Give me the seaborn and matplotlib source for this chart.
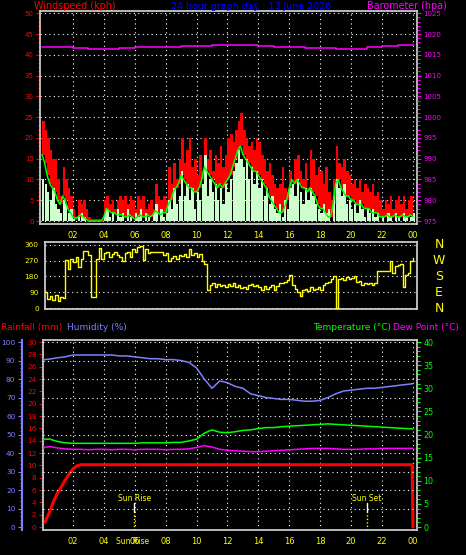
import matplotlib
matplotlib.use("Agg")
import matplotlib.pyplot as plt
from matplotlib.ticker import MultipleLocator
import numpy as np
import pandas as pd
import seaborn as sns

TITLE = "24 hour graph day : 13 June 2026"

# wind, 10 minute samples 00:00 .. 24:00 (kph)
WIND_GUST = [24, 22, 20, 17, 15, 15,  10, 6, 13, 10, 8, 6,  3, 1, 5, 4, 5, 3,
             1, 0.5, 0.5, 0.5, 0.5, 0.5,  5, 6, 4, 5, 3, 5,  6, 5, 6, 4, 6, 5,
             3, 6, 5, 6, 3, 4,  5, 3, 9, 6, 5, 6,  5, 13, 9, 14, 10, 15,
             20, 14, 17, 20, 13, 15,  11, 16, 12, 20, 15, 17,  12, 16, 14, 18, 13, 16,
             20, 21, 19, 22, 24, 26,  22, 20, 18, 19, 17, 20,  19, 16, 15, 12, 14, 11,
             9, 8, 9, 13, 8, 7,  12, 10, 15, 16, 12, 10,  14, 8, 17, 15, 11, 13,
             12, 9, 13, 7, 5, 10,  18, 14, 13, 15, 12, 11,  9, 10, 8, 10, 7, 9,
             8, 7, 9, 6, 7, 5,  3, 5, 4, 6, 3, 5,  6, 4, 6, 3, 5, 6,  4]
WIND_AVG = [16, 14, 11, 9, 8, 7,  5, 4, 6, 5, 3, 2,  1, 0.5, 1, 1.5, 1, 0.5,
            0, 0, 0, 0, 0, 0,  1, 3, 2.5, 2, 2, 1.5,  1.5, 1.5, 1, 1, 1.5, 1,
            0.5, 1, 1.5, 1, 1, 1.5,  1, 1.5, 2.5, 2, 1.5, 2,  2, 4, 5, 7, 8, 9,
            11, 10, 9, 8, 8, 7,  7, 8, 10, 13, 12, 11,  10, 9, 8, 9, 8, 9,
            10, 11, 13, 15, 17, 18,  16, 15, 14, 13, 12, 12,  11, 10, 9, 8, 6, 5,
            4, 3, 2, 2, 3, 5,  8, 10, 9, 10, 9, 8,  8, 7, 8, 7, 6, 4,
            3, 3, 2, 1, 1, 4,  9, 10, 8, 7, 6, 6,  5, 5, 4, 4, 4, 3,
            3, 3, 2, 2, 2, 1,  1, 1, 1.5, 1, 1, 1.5,  1, 1, 1.5, 1, 1, 1.5,  1]
WIND_SPEED = [10, 9, 7, 5, 8, 4,  3, 2, 5, 4, 2, 3,  0.5, 0, 1, 2, 1, 0,
              0, 0, 0, 0, 0, 0,  2, 3, 1, 2, 0, 3,  1, 2, 0, 3, 1, 0,
              2, 1, 3, 0, 2, 1,  0, 2, 4, 0, 3, 1,  2, 5, 3, 8, 4, 6,
              12, 6, 9, 5, 8, 3,  7, 5, 9, 16, 6, 10,  7, 9, 5, 8, 4, 9,
              7, 10, 12, 14, 17, 15,  13, 15, 10, 13, 9, 12,  8, 10, 6, 8, 4, 6,
              3, 2, 4, 1, 5, 3,  8, 9, 6, 10, 7, 4,  8, 5, 8, 6, 4, 3,
              2, 4, 2, 3, 0, 6,  10, 8, 6, 9, 4, 5,  3, 4, 2, 5, 3, 1,
              3, 2, 3, 1, 2, 0,  1, 0, 2, 1, 0, 2,  1, 0, 2, 1, 0, 1,  2]
WIND_DIR = [95, 90, 50, 70, 45, 75,  40, 60, 55, 275, 220, 280,  260, 290, 235, 280, 325, 325,
            300, 65, 65, 280, 340, 280,  310, 320, 290, 305, 320, 300,  290, 270, 310, 320, 290, 335,
            320, 345, 350, 275, 335, 310,  320, 320, 320, 320, 320, 300,  310, 270, 285, 295, 280, 300,
            295, 305, 290, 335, 300, 315,  290, 305, 270, 250, 100, 130,  140, 120, 135, 125, 130, 120,
            135, 125, 140, 120, 130, 115,  120, 110, 130, 135, 125, 130,  120, 105, 125, 110, 120, 130,
            105, 125, 140, 145, 150, 160,  190, 130, 110, 90, 70, 100,  110, 95, 120, 105, 110, 120,
            100, 130, 145, 150, 165, 180,  0, 165, 170, 160, 175, 165,  170, 180, 150, 155, 130, 145,
            135, 145, 130, 140, 210, 210,  210, 210, 210, 270, 200, 240,  245, 250, 120, 190, 200, 270,  285]

# barometer, hourly (hPa)
BARO_HPA = [1016.9, 1016.8, 1016.6, 1016.5, 1016.5, 1016.6, 1016.8, 1016.9, 1017.0, 1017.1,
            1017.2, 1017.3, 1017.3, 1017.4, 1017.2, 1017.0, 1016.8, 1016.7, 1016.6, 1016.5,
            1016.5, 1016.8, 1017.2, 1017.4, 1017.6]

# half-hourly
HUMIDITY = [90.3, 90.8, 91.5, 92.0, 93.0, 93.0, 93.0, 93.0, 93.0, 93.0,
            92.5, 92.5, 92.0, 91.5, 91.0, 91.0, 90.5, 90.5, 90.0, 89.0,
            86.0, 80.0, 75.0, 79.0, 78.0, 76.0, 75.0, 72.0, 71.0, 70.0,
            69.5, 69.0, 69.0, 68.5, 68.0, 68.0, 68.5, 70.0, 72.0, 73.5,
            74.0, 74.5, 75.0, 75.0, 75.5, 76.0, 76.5, 77.0, 77.5]
TEMP_C = [19.0, 19.0, 18.5, 18.2, 18.1, 18.1, 18.1, 18.1, 18.1, 18.1,
          18.1, 18.1, 18.1, 18.2, 18.2, 18.2, 18.2, 18.3, 18.3, 18.6,
          19.0, 20.3, 21.0, 20.5, 20.4, 20.6, 20.9, 21.0, 21.3, 21.5,
          21.5, 21.7, 21.8, 21.9, 22.0, 22.1, 22.2, 22.3, 22.2, 22.1,
          22.0, 21.9, 21.8, 21.7, 21.6, 21.5, 21.4, 21.3, 21.2]
DEW_C = [17.1, 17.4, 17.1, 16.9, 16.8, 16.8, 16.7, 16.8, 16.8, 16.7,
         16.8, 16.8, 16.7, 16.8, 16.8, 16.8, 16.7, 16.8, 16.8, 16.9,
         17.2, 17.6, 17.3, 16.8, 16.6, 16.5, 16.4, 16.3, 16.3, 16.4,
         16.5, 16.6, 16.7, 16.8, 16.9, 17.0, 17.0, 17.0, 16.9, 16.8,
         16.8, 16.8, 16.9, 16.9, 17.0, 17.0, 17.0, 17.0, 17.0]

RAIN_TIMES = [0.2, 0.5, 0.75, 1.0, 1.25, 1.5, 1.75, 2.0, 2.25, 2.5, 23.95, 24.0]
RAIN_MM = [0.8, 2.5, 4.2, 5.5, 6.5, 7.6, 8.6, 9.4, 9.9, 10.1, 10.1, 0.0]

SUNRISE_H = 5.97
SUNSET_H = 21.0

HOUR_TICKS = list(range(2, 25, 2))
HOUR_LABELS = [f"{h % 24:02d}" for h in HOUR_TICKS]
DIR_TICKS = [0, 90, 180, 270, 360]
DIR_LETTERS = ["N", "E", "S", "W", "N"]

RED, MAG, GRN, YEL = "#ff0000", "#ff00ff", "#00ff00", "#ffff00"
HUM, PALE, FRAME = "#8080ff", "#ccffcc", "#c8c8c8"
GRID = dict(color="white", lw=0.8, ls=(0, (1, 3)))


def frame(ax):
    ax.set_facecolor("black")
    for s in ax.spines.values():
        s.set_color(FRAME)
        s.set_linewidth(1.3)
    ax.set_xlabel(""); ax.set_ylabel("")


def hide_spines(ax):
    for s in ax.spines.values():
        s.set_visible(False)
    ax.set_xlabel(""); ax.set_ylabel("")


def y_ticks(ax, major, minor, color, size=5):
    ax.set_yticks(major)
    ax.yaxis.set_minor_locator(MultipleLocator(minor))
    ax.tick_params(axis="y", which="major", colors=color, labelsize=size, length=3, width=0.8, pad=1.5)
    ax.tick_params(axis="y", which="minor", colors=color, length=1.8, width=0.7)


def hour_axis(ax):
    ax.set_xticks(HOUR_TICKS, HOUR_LABELS)
    ax.xaxis.set_minor_locator(MultipleLocator(0.5))
    ax.tick_params(axis="x", which="major", colors="white", labelcolor=YEL,
                   labelsize=6, length=3, width=0.8, pad=2)
    ax.tick_params(axis="x", which="minor", colors="white", length=2, width=0.7)


def draw_wind(fig):
    ax = fig.add_axes([0.0858, 0.5964, 0.809, 0.3843])
    frame(ax)
    t = np.arange(len(WIND_GUST)) / 6
    ax.fill_between(t, WIND_AVG, WIND_GUST, step="post", color=RED, lw=0, zorder=2)
    ax.bar(t, WIND_SPEED, width=0.15, align="edge", color=PALE, lw=0, zorder=3)
    sns.lineplot(x=t, y=WIND_AVG, ax=ax, color=GRN, lw=1.1, zorder=4)
    ax.set_xlim(-0.13, 24.26)
    ax.set_ylim(-0.72, 50.63)
    y_ticks(ax, range(0, 51, 5), 1, RED)
    hour_axis(ax)
    for v in range(0, 51, 5):
        ax.axhline(v, zorder=1, **GRID)
    for h in HOUR_TICKS:
        ax.axvline(h, zorder=1, **GRID)
    frame(ax)

    axb = ax.twinx()
    baro = pd.DataFrame({"hour": np.arange(len(BARO_HPA)), "hpa": BARO_HPA})
    sns.lineplot(data=baro, x="hour", y="hpa", ax=axb, color=MAG, lw=1.1, drawstyle="steps-post")
    axb.set_ylim(975 - 0.72, 1025.63)
    y_ticks(axb, range(975, 1026, 5), 1, MAG)
    hide_spines(axb)


def draw_direction(fig):
    ax = fig.add_axes([0.0966, 0.4432, 0.7983, 0.1213])
    t = np.arange(len(WIND_DIR)) / 6
    sns.lineplot(x=t, y=WIND_DIR, ax=ax, color=YEL, lw=1.0, drawstyle="steps-post", zorder=3)
    ax.set_xlim(0.19, 24.26)
    ax.set_ylim(-5.7, 377)
    ax.set_xticks([])
    y_ticks(ax, DIR_TICKS, 45, YEL, size=5.3)
    ax.tick_params(axis="y", colors="white", labelcolor=YEL)
    ax.tick_params(axis="y", which="minor", colors="white")
    for v in DIR_TICKS:
        ax.axhline(v, zorder=1, **GRID)
    for v, letter in zip(DIR_TICKS, DIR_LETTERS):
        ax.text(1.059, v, letter, transform=ax.get_yaxis_transform(), color=YEL,
                fontsize=9, ha="center", va="center")
    frame(ax)


def draw_climate(fig):
    ax = fig.add_axes([0.0916, 0.045, 0.8032, 0.3423])
    frame(ax)
    sns.lineplot(x=RAIN_TIMES, y=RAIN_MM, ax=ax, color=RED, lw=2.2, zorder=4)
    ax.set_xlim(0.045, 24.26)
    ax.set_ylim(-0.49, 30.32)
    y_ticks(ax, range(0, 31, 2), 0.5, RED, size=5.3)
    hour_axis(ax)
    for h in HOUR_TICKS:
        ax.axvline(h, zorder=1, **GRID)

    # sunrise / sunset markers
    for hr, label in [(SUNRISE_H, "Sun Rise"), (SUNSET_H, "Sun Set")]:
        ax.plot([hr, hr], [2.43, 3.9], color="white", lw=1, zorder=3)
        ax.plot([hr, hr], [-0.49, 2.43], color=YEL, lw=1, ls=(0, (1, 1.5)), zorder=3)
        ax.text(hr, 4.7, label, color=YEL, fontsize=5.5, ha="center", va="center")
    # the source chart prints the sunrise tag over the 06 hour label
    ax.text(SUNRISE_H - 0.1, -0.062, "Sun Rise", transform=ax.get_xaxis_transform(),
            color=YEL, fontsize=5.5, ha="center", va="center")
    frame(ax)

    half = np.arange(len(HUMIDITY)) * 0.5
    axh = ax.twinx()
    hide_spines(axh)
    axh.yaxis.tick_left()
    axh.spines["left"].set_visible(True)
    axh.spines["left"].set_position(("axes", -0.0561))
    axh.spines["left"].set_color(HUM)
    axh.spines["left"].set_linewidth(1.5)
    sns.lineplot(x=half, y=HUMIDITY, ax=axh, color=HUM, lw=1.1)
    axh.set_ylim(-1.62, 101.08)
    y_ticks(axh, range(0, 101, 10), 2, HUM, size=5.3)
    for v in range(10, 101, 10):
        axh.axhline(v, zorder=1, **GRID)
    axh.set_ylabel("")

    axt = ax.twinx()
    hide_spines(axt)
    sns.lineplot(x=half, y=TEMP_C, ax=axt, color=GRN, lw=1.1)
    sns.lineplot(x=half, y=DEW_C, ax=axt, color=MAG, lw=1.1)
    axt.set_ylim(-0.65, 40.43)
    y_ticks(axt, range(0, 41, 5), 1, GRN, size=5.8)
    axt.set_ylabel("")


def main():
    sns.set_theme(style="dark")
    plt.rcParams.update({"figure.facecolor": "black", "savefig.facecolor": "black",
                         "axes.facecolor": "black", "axes.grid": False})
    plt.rcParams["font.family"] = ["DejaVu Sans"]

    fig = plt.figure(figsize=(4.66, 5.55), dpi=100)
    draw_wind(fig)
    draw_direction(fig)
    draw_climate(fig)

    fig.text(0.073, 0.989, "Windspeed (kph)", color=RED, fontsize=6.9, ha="left", va="center")
    fig.text(0.5397, 0.989, TITLE, color="#0000ff", fontsize=6.8, ha="center", va="center")
    fig.text(0.959, 0.989, "Barometer (hpa)", color=MAG, fontsize=6.9, ha="right", va="center")
    fig.text(0.002, 0.4096, "Rainfall (mm)", color=RED, fontsize=6.5, ha="left", va="center")
    fig.text(0.1438, 0.4096, "Humidity (%)", color=HUM, fontsize=6.5, ha="left", va="center")
    fig.text(0.6717, 0.4096, "Temperature (°C)", color=GRN, fontsize=6.5, ha="left", va="center")
    fig.text(0.8433, 0.4096, "Dew Point (°C)", color=MAG, fontsize=6.5, ha="left", va="center")

    fig.savefig("out.png", dpi=100)
    plt.close(fig)


if __name__ == "__main__":
    main()
